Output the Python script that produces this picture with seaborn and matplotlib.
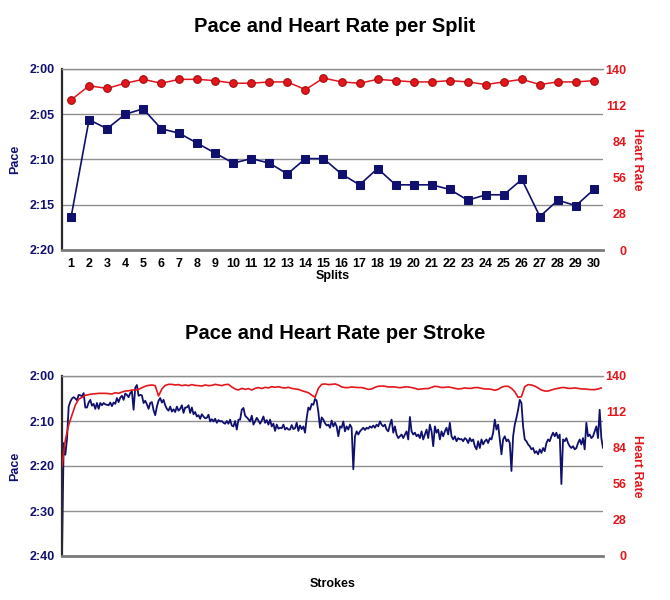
import matplotlib
matplotlib.use("Agg")
import matplotlib.pyplot as plt
import seaborn as sns
import numpy as np
from matplotlib.ticker import FuncFormatter, MultipleLocator

# ── data ─────────────────────────────────────────────────────────────
splits = list(range(1, 31))
# pace in seconds per 500m
split_pace = [136.4, 125.6, 126.6, 125.0, 124.4, 126.6, 127.1, 128.2, 129.3, 130.4,
              129.9, 130.4, 131.6, 129.9, 129.9, 131.6, 132.8, 131.0, 132.8, 132.8,
              132.8, 133.3, 134.5, 133.9, 133.9, 132.2, 136.3, 134.5, 135.1, 133.3]
split_hr = [116, 127, 125, 129, 132, 129, 132, 132, 131, 129,
            129, 130, 130, 124, 133, 130, 129, 132, 131, 130,
            130, 131, 130, 128, 130, 132, 128, 130, 130, 131]

stroke_pace = [
    160.0, 134.9, 137.5, 134.0, 126.8, 125.7, 125.0, 124.7, 125.0, 125.4,
    124.2, 124.3, 124.5, 123.8, 127.0, 127.0, 125.9, 125.3, 126.6, 126.2,
    127.3, 126.0, 127.3, 126.0, 126.5, 126.0, 126.3, 126.4, 126.5, 125.9,
    126.7, 125.9, 126.2, 124.9, 125.8, 124.8, 124.4, 125.3, 123.9, 124.2,
    124.7, 123.8, 123.4, 127.5, 122.6, 122.0, 124.4, 124.2, 124.3, 126.0,
    125.5, 126.3, 127.3, 126.0, 125.8, 127.6, 128.7, 126.8, 125.5, 124.9,
    125.9, 125.3, 126.5, 127.3, 127.7, 126.8, 127.9, 127.4, 128.0, 126.8,
    127.7, 127.3, 126.5, 128.2, 127.0, 127.0, 126.5, 128.2, 127.0, 128.5,
    128.0, 129.0, 128.7, 129.5, 128.5, 129.0, 129.4, 129.3, 128.6, 130.1,
    129.6, 130.1, 129.5, 130.4, 129.8, 130.1, 130.0, 130.4, 130.6, 130.0,
    130.6, 129.7, 131.0, 131.2, 130.0, 131.9, 129.7, 129.7, 127.5, 127.1,
    128.8, 129.2, 129.6, 130.1, 128.8, 130.8, 130.1, 129.3, 129.9, 130.6,
    129.9, 129.0, 130.4, 129.8, 130.8, 129.7, 131.2, 130.6, 132.2, 130.8,
    131.7, 131.5, 131.6, 130.8, 131.9, 131.5, 131.9, 131.9, 130.9, 131.8,
    131.6, 130.4, 132.2, 131.0, 131.8, 131.2, 132.6, 129.3, 127.0, 127.5,
    126.2, 126.4, 125.1, 125.5, 128.0, 131.5, 129.2, 129.7, 130.5, 131.0,
    130.8, 131.5, 129.9, 131.2, 130.4, 131.2, 133.4,
    131.2, 131.5, 130.1, 132.3, 131.2, 131.9, 130.8, 131.5, 140.7, 133.4,
    132.3, 133.0, 132.3, 131.9, 131.5, 132.0, 131.5, 131.7, 131.2, 131.5,
    131.0, 131.5, 130.8, 131.2, 130.1, 130.8, 131.2, 130.8, 131.9, 132.3,
    130.8, 129.7, 132.6, 131.2, 133.0, 133.8, 133.4, 133.0, 133.8, 133.0,
    132.3, 134.1, 129.1, 132.3, 133.0, 132.6, 133.4, 133.0, 133.8, 132.3,
    134.1, 133.0, 131.9, 133.8, 130.8, 132.3, 135.6, 131.2, 132.6, 131.9,
    134.1, 132.3, 133.4, 132.3, 131.5, 133.0, 130.4, 133.4, 134.1, 133.4,
    134.5, 133.8, 134.1, 134.0, 134.5, 133.8, 134.1, 134.9, 133.8, 134.5,
    134.1, 135.6, 136.3, 134.5, 136.0, 134.1, 135.2, 134.5, 134.1, 134.9,
    133.8, 134.1, 132.6, 129.7, 131.9, 130.8, 134.1, 137.4, 134.1, 133.4,
    134.5, 134.1, 134.9, 141.1, 133.4, 130.8, 129.3, 127.5, 125.3, 126.0,
    131.2, 134.1, 134.5, 135.2, 135.6, 136.3, 136.0, 137.1, 136.7, 137.4,
    136.3, 137.1, 136.0, 136.7, 134.9, 134.1, 134.5, 133.4, 132.6, 133.4,
    132.6, 133.8, 133.0, 144.0, 134.1, 134.5, 133.8, 134.9, 135.6, 136.0,
    135.6, 136.3, 136.0, 134.9, 134.1, 135.2, 133.8, 136.3, 130.4, 133.4,
    133.0, 133.8, 133.4, 132.3, 131.2, 133.8, 127.5, 133.8, 136.0,
]
# heart rate logged every second stroke
stroke_hr = [
    69.5, 90.2, 101.9, 109.7, 117.4, 121.9, 123.4, 125.0, 125.5, 126.0,
    126.2, 126.5, 126.5, 126.5, 126.3, 126.0, 127.0, 126.5, 127.5, 128.3,
    128.5, 129.1, 129.1, 129.6, 130.9, 132.0, 132.7, 133.0, 132.5, 124.5,
    129.9, 132.7, 133.5, 133.5, 133.0, 133.3, 132.5, 133.0, 132.5, 133.3,
    132.7, 132.5, 132.2, 133.0, 132.5, 132.7, 133.5, 133.0, 132.5, 133.3,
    133.5, 131.5, 129.9, 129.1, 130.4, 129.6, 130.2, 129.1, 130.4, 131.0,
    130.2, 131.2, 130.7, 131.7, 131.2, 131.7, 131.0, 130.7, 131.2, 130.4,
    129.9, 129.6, 128.6, 127.8, 127.0, 125.2, 123.4, 130.4, 133.5, 133.8,
    133.3, 133.5, 133.8, 133.0,
    131.5, 131.0, 131.0, 131.5, 131.2, 131.0, 131.0, 130.4, 129.6, 129.9,
    131.2, 132.0, 132.2, 132.0, 131.5, 131.5, 131.5, 131.0, 131.0, 131.5,
    131.5, 131.0, 130.4, 129.6, 129.9, 130.2, 130.2, 131.2, 132.0, 131.7,
    131.0, 131.2, 131.5, 131.0, 130.4, 129.9, 130.2, 130.7, 130.4, 130.4,
    131.0, 131.0, 130.4, 129.9, 129.9, 129.6, 128.9, 129.6, 131.2, 132.0,
    132.0, 130.4, 127.8, 123.4, 123.9, 131.7, 133.3, 133.0, 132.2, 130.7,
    129.1, 128.3, 128.3, 129.1, 129.9, 130.4, 131.0, 131.0, 130.4, 130.4,
    130.7, 130.4, 129.9, 129.9, 129.6, 129.4, 129.4, 129.9, 130.7,
]

PACE_COLOR = "#10106e"
HR_COLOR = "#e3161c"
HR_EDGE = "#a30d10"
GRID = "#8f8f8f"


def fmt_pace(v, pos):
    v = int(round(v))
    return f"{v // 60}:{v % 60:02d}"


sns.set_style("white")
plt.rcParams["font.family"] = ["Liberation Sans", "DejaVu Sans"]
plt.rcParams["font.weight"] = "bold"
plt.rcParams["axes.labelweight"] = "bold"
plt.rcParams["text.color"] = "black"
plt.rcParams["axes.labelcolor"] = "black"

fig = plt.figure(figsize=(6.7, 6.0), dpi=100)


def style_pair(ax, ax2, pace_top, pace_bottom, pace_step, ylabel_pad):
    ax.set_ylim(pace_bottom, pace_top)
    ax.yaxis.set_major_locator(MultipleLocator(pace_step))
    ax.yaxis.set_major_formatter(FuncFormatter(fmt_pace))
    ax.grid(axis="y", color=GRID, lw=1)
    ax.grid(axis="x", visible=False)
    ax.set_axisbelow(True)
    ax.tick_params(axis="y", length=0, pad=5, labelsize=9, labelcolor=PACE_COLOR)
    ax.set_ylabel("Pace", color=PACE_COLOR, fontsize=9, labelpad=ylabel_pad)
    ax.spines["right"].set_visible(False)
    ax.spines["top"].set_color(GRID)
    ax.spines["top"].set_linewidth(1)
    ax.spines["left"].set_color("#2a2a2a")
    ax.spines["left"].set_linewidth(1.6)
    ax.spines["bottom"].set_color("#7a7a7a")
    ax.spines["bottom"].set_linewidth(2)

    ax2.set_ylim(0, 140)
    ax2.set_yticks(np.arange(0, 141, 28))
    ax2.tick_params(axis="y", length=0, pad=17, labelsize=9, labelcolor=HR_COLOR)
    for t in ax2.get_yticklabels():
        t.set_horizontalalignment("right")
    ax2.set_ylabel("Heart Rate", color=HR_COLOR, fontsize=9, rotation=270, labelpad=12)
    ax2.grid(False)
    for side in ax2.spines:
        ax2.spines[side].set_visible(False)


# ── top: per split ───────────────────────────────────────────────────
ax = fig.add_axes([62 / 670, 1 - 250 / 600, 541 / 670, 181 / 600])
ax2 = ax.twinx()
sns.lineplot(x=splits, y=split_pace, ax=ax, color=PACE_COLOR, lw=1.2,
             marker="s", markersize=5.5, markeredgecolor=PACE_COLOR)
sns.lineplot(x=splits, y=split_hr, ax=ax2, color=HR_COLOR, lw=1.1,
             marker="o", markersize=5.5, markeredgecolor=HR_EDGE, markeredgewidth=0.8)
ax.set_xlim(0.5, 30.5)
ax.set_xticks(splits)
ax.tick_params(axis="x", length=0, pad=6, labelsize=9, labelcolor="black")
ax.set_xlabel("Splits", fontsize=9, labelpad=0)
style_pair(ax, ax2, 120, 140, 5, 6)
fig.text(0.5, 1 - 27 / 600, "Pace and Heart Rate per Split", ha="center", va="center",
         fontsize=14.5, fontweight="bold")

# ── bottom: per stroke ───────────────────────────────────────────────
strokes = np.arange(1, len(stroke_pace) + 1)
hr_strokes = np.arange(len(stroke_hr)) * 2 + 1
bx = fig.add_axes([62 / 670, 1 - 556 / 600, 541 / 670, 180 / 600])
bx2 = bx.twinx()
sns.lineplot(x=strokes, y=stroke_pace, ax=bx, color=PACE_COLOR, lw=1.3)
sns.lineplot(x=hr_strokes, y=stroke_hr, ax=bx2, color=HR_COLOR, lw=1.2)
bx.set_xlim(1, len(stroke_pace))
bx.set_xticks([])
bx.set_xlabel("Strokes", fontsize=9, labelpad=16)
style_pair(bx, bx2, 120, 160, 10, 6)
fig.text(0.5, 1 - 333 / 600, "Pace and Heart Rate per Stroke", ha="center", va="center",
         fontsize=14.5, fontweight="bold")

fig.savefig("out.png", dpi=100, facecolor="white")
